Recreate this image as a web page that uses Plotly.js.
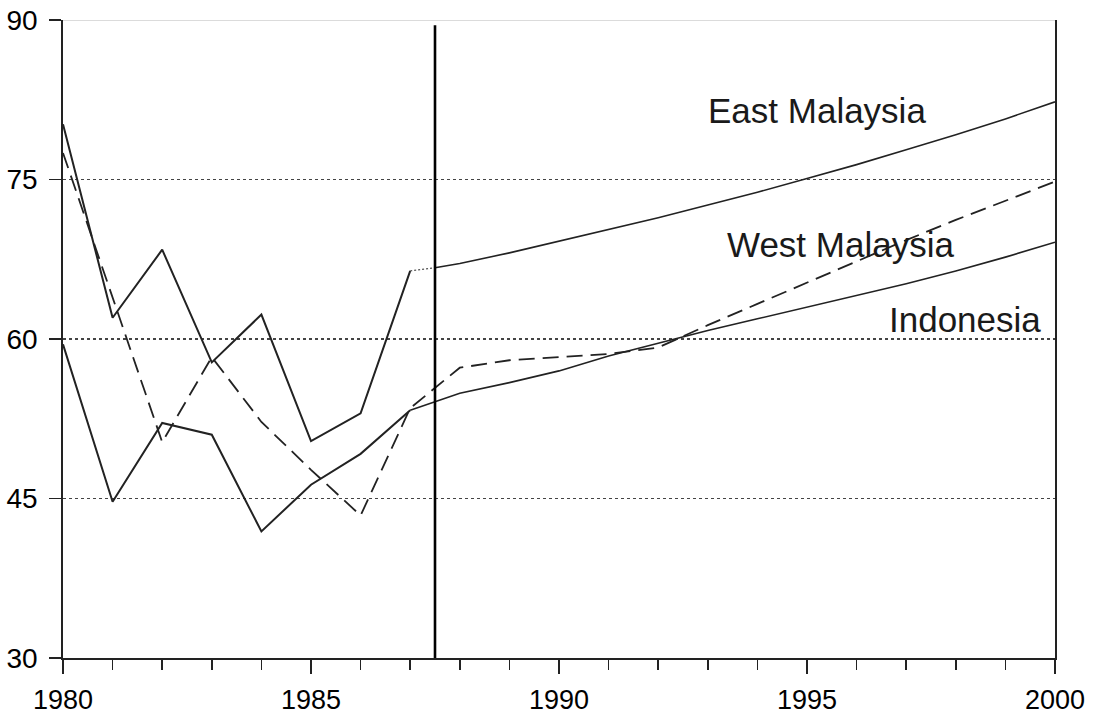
<!DOCTYPE html>
<html>
<head>
<meta charset="utf-8">
<script src="https://cdn.plot.ly/plotly-3.0.1.min.js"></script>
<style>
  html, body { margin: 0; padding: 0; background: #fff; }
  #chart { width: 1093px; height: 725px; }
</style>
</head>
<body>
<div id="chart"></div>
<script>
// Historical years and values
const histYears = [1980, 1981, 1982, 1983, 1984, 1985, 1986, 1987];
const eastHist = [80.2, 62.0, 68.4, 57.8, 62.3, 50.4, 53.0, 66.4];
const westHist = [77.5, 64.0, 50.3, 58.3, 52.2, 47.7, 43.4, 53.5];
const indoHist = [59.5, 44.7, 52.1, 51.0, 41.9, 46.3, 49.2, 53.3];

// Projection years and values
const projYears = [1987.5, 1988, 1989, 1990, 1991, 1992, 1993, 1994, 1995, 1996, 1997, 1998, 1999, 2000];
const eastProj = [66.7, 67.1, 68.1, 69.2, 70.3, 71.4, 72.6, 73.8, 75.1, 76.4, 77.8, 79.2, 80.7, 82.3];
const westProj = [55.4, 57.3, 58.0, 58.3, 58.6, 59.2, 61.3, 63.3, 65.3, 67.3, 69.3, 71.2, 73.0, 74.8];
const indoProj = [54.1, 54.9, 55.9, 57.0, 58.4, 59.6, 60.8, 61.9, 63.0, 64.1, 65.2, 66.4, 67.7, 69.1];

// Labels
const seriesLabels = ["East Malaysia", "West Malaysia", "Indonesia"];
const xTickVals = [1980, 1985, 1990, 1995, 2000];
const yTickVals = [30, 45, 60, 75, 90];
const splitYear = 1987.5;

const ink = "#222";
const last = a => a[a.length - 1];

const traces = [
  // East Malaysia historical
  { x: histYears, y: eastHist, mode: "lines", line: { color: ink, width: 2 }, hoverinfo: "skip" },
  // East Malaysia dotted connector to projection
  { x: [last(histYears), projYears[0]], y: [last(eastHist), eastProj[0]], mode: "lines",
    line: { color: "#555", width: 1.2, dash: "2px,2px" }, hoverinfo: "skip" },
  // East Malaysia projection
  { x: projYears, y: eastProj, mode: "lines", line: { color: ink, width: 1.6 }, hoverinfo: "skip" },
  // West Malaysia (dashed, continuous)
  { x: histYears.concat(projYears), y: westHist.concat(westProj), mode: "lines",
    line: { color: ink, width: 1.8, dash: "16px,8px" }, hoverinfo: "skip" },
  // Indonesia historical
  { x: histYears, y: indoHist, mode: "lines", line: { color: ink, width: 2 }, hoverinfo: "skip" },
  // Indonesia projection (joined)
  { x: [last(histYears)].concat(projYears), y: [last(indoHist)].concat(indoProj), mode: "lines",
    line: { color: ink, width: 1.6 }, hoverinfo: "skip" }
];

const labelFont = { family: "Liberation Sans, Arial, sans-serif", size: 35, color: "#1a1a1a" };

const layout = {
  width: 1093,
  height: 725,
  margin: { l: 63, r: 38, t: 20, b: 67, pad: 0 },
  paper_bgcolor: "#fff",
  plot_bgcolor: "#fff",
  showlegend: false,
  font: { family: "Liberation Sans, Arial, sans-serif", size: 26, color: "#111" },
  xaxis: {
    range: [1980, 2000],
    tickvals: xTickVals,
    ticktext: xTickVals.map(String),
    ticks: "outside",
    ticklen: 14,
    tickwidth: 1.5,
    tickcolor: ink,
    ticklabelstandoff: 3,
    showline: true,
    linecolor: ink,
    linewidth: 1.8,
    showgrid: false,
    zeroline: false,
    minor: { dtick: 1, tick0: 1980, ticks: "outside", ticklen: 10, tickwidth: 1.5, tickcolor: ink, showgrid: false },
    tickfont: { size: 27, color: "#000" }
  },
  xaxis2: {
    overlaying: "x",
    anchor: "y",
    side: "bottom",
    range: [1980, 2000],
    tickvals: xTickVals,
    ticks: "inside",
    ticklen: 12,
    tickwidth: 1.5,
    tickcolor: ink,
    showticklabels: false,
    showline: false,
    showgrid: false,
    zeroline: false
  },
  yaxis: {
    range: [30, 90],
    tickvals: yTickVals,
    ticktext: yTickVals.map(String),
    ticks: "outside",
    ticklen: 12,
    tickwidth: 1.5,
    tickcolor: ink,
    ticklabelstandoff: 6,
    showline: true,
    mirror: true,
    linecolor: ink,
    linewidth: 1.8,
    showgrid: true,
    gridcolor: "#444",
    gridwidth: 1.6,
    griddash: "dot",
    zeroline: false,
    tickfont: { size: 28, color: "#000" }
  },
  shapes: [
    { type: "line", xref: "x", yref: "y", x0: 1980, x1: 2000, y0: 90, y1: 90,
      line: { color: "#cfcfcf", width: 1.5 }, layer: "above" },
    { type: "line", xref: "x", yref: "y", x0: splitYear, x1: splitYear, y0: 30, y1: 89.5,
      line: { color: "#000", width: 2.6 }, layer: "above" }
  ],
  annotations: [
    { text: seriesLabels[0], xref: "x", yref: "y", x: 1995.2, y: 81.5, showarrow: false, font: labelFont, xanchor: "center", yanchor: "middle" },
    { text: seriesLabels[1], xref: "x", yref: "y", x: 1995.67, y: 68.9, showarrow: false, font: labelFont, xanchor: "center", yanchor: "middle" },
    { text: seriesLabels[2], xref: "x", yref: "y", x: 1998.19, y: 61.8, showarrow: false, font: labelFont, xanchor: "center", yanchor: "middle" }
  ]
};

Plotly.newPlot("chart", traces, layout, { staticPlot: true, displayModeBar: false });
</script>
</body>
</html>
